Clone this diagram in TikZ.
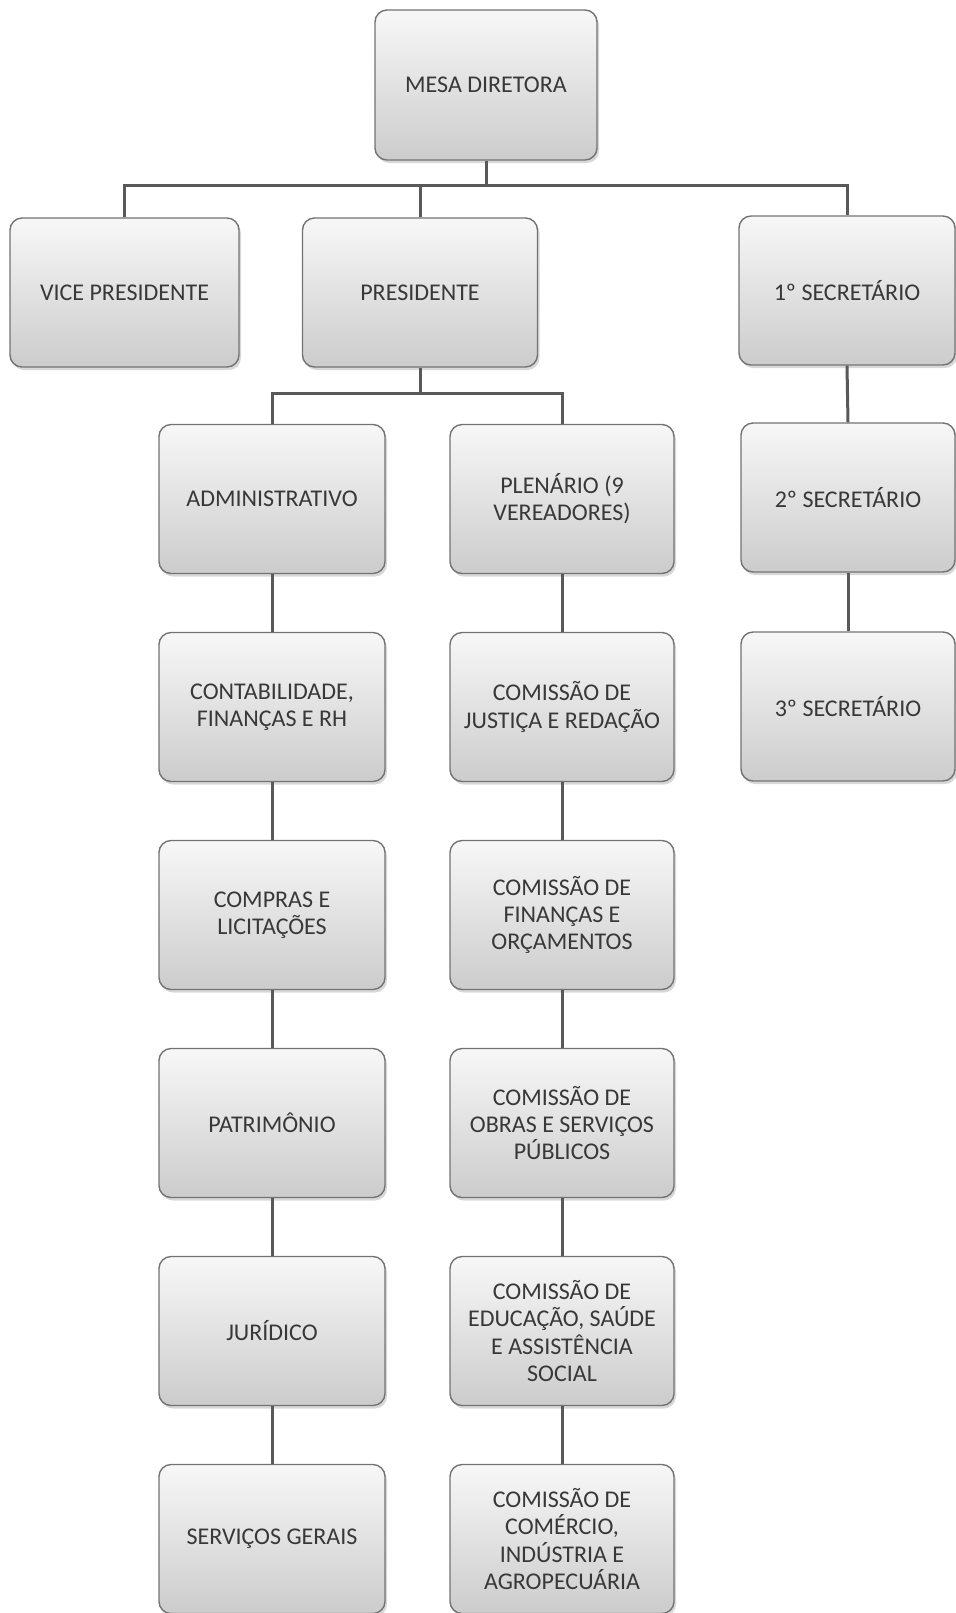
\documentclass[tikz,border=0pt]{standalone}
\usepackage{fontspec}
\setmainfont{Carlito}
\usetikzlibrary{shadows}
\begin{document}
\begin{tikzpicture}[x=0.5pt,y=-0.5pt,
  box/.style={draw=black!55, line width=0.7pt, rounded corners=6pt,
    minimum width=113pt, minimum height=74.5pt, align=center, inner sep=2pt,
    text=black!78, font=\fontsize{12}{13.6}\selectfont,
    top color=gray!6, bottom color=gray!40,
    drop shadow={opacity=0.3, shadow xshift=1pt, shadow yshift=-1.5pt}},
  conn/.style={draw=black!65, line width=1.5pt}]
\useasboundingbox (0,0) rectangle (955,1613);
\fill[white] (0,0) rectangle (955,1613);

% top levels
\node[box, minimum width=111pt, minimum height=75pt] (mesa) at (486,85) {MESA DIRETORA};
\node[box, minimum width=114.5pt] (vice) at (124.5,292.5) {VICE PRESIDENTE};
\node[box, minimum width=117.5pt] (pres) at (420,292.5) {PRESIDENTE};
\node[box, minimum width=108pt] (sec1) at (847,290.5) {1º SECRETÁRIO};
\node[box, minimum width=107pt] (sec2) at (848,497.5) {2º SECRETÁRIO};
\node[box, minimum width=107pt] (sec3) at (848,706.5) {3º SECRETÁRIO};

% left column
\node[box] (adm)  at (272,499)  {ADMINISTRATIVO};
\node[box] (cont) at (272,707)  {CONTABILIDADE,\\FINANÇAS E RH};
\node[box] (comp) at (272,915)  {COMPRAS E\\LICITAÇÕES};
\node[box] (patr) at (272,1123) {PATRIMÔNIO};
\node[box] (jur)  at (272,1331) {JURÍDICO};
\node[box] (serv) at (272,1539) {SERVIÇOS GERAIS};

% middle column
\node[box, minimum width=112pt] (plen) at (562,499)  {PLENÁRIO (9\\VEREADORES)};
\node[box, minimum width=112pt] (cjus) at (562,707)  {COMISSÃO DE\\JUSTIÇA E REDAÇÃO};
\node[box, minimum width=112pt] (cfin) at (562,915)  {COMISSÃO DE\\FINANÇAS E\\ORÇAMENTOS};
\node[box, minimum width=112pt] (cobr) at (562,1123) {COMISSÃO DE\\OBRAS E SERVIÇOS\\PÚBLICOS};
\node[box, minimum width=112pt] (cedu) at (562,1331) {COMISSÃO DE\\EDUCAÇÃO, SAÚDE\\E ASSISTÊNCIA\\SOCIAL};
\node[box, minimum width=112pt] (ccom) at (562,1539) {COMISSÃO DE\\COMÉRCIO,\\INDÚSTRIA E\\AGROPECUÁRIA};

% buses
\coordinate (bus) at (0,185);
\coordinate (pbus) at (0,393);

\draw[conn] (mesa.south) -- (mesa.south |- bus);
\draw[conn] (vice.north) |- (bus -| sec1.north) -- (sec1.north);
\draw[conn] (pres.north) -- (pres.north |- bus);

\draw[conn] (pres.south) -- (pres.south |- pbus);
\draw[conn] (adm.north) |- (pbus -| plen.north) -- (plen.north);

\draw[conn] (sec1.south) -- (sec2.north);
\draw[conn] (sec2.south) -- (sec3.north);

\draw[conn] (adm.south) -- (cont.north);
\draw[conn] (cont.south) -- (comp.north);
\draw[conn] (comp.south) -- (patr.north);
\draw[conn] (patr.south) -- (jur.north);
\draw[conn] (jur.south) -- (serv.north);

\draw[conn] (plen.south) -- (cjus.north);
\draw[conn] (cjus.south) -- (cfin.north);
\draw[conn] (cfin.south) -- (cobr.north);
\draw[conn] (cobr.south) -- (cedu.north);
\draw[conn] (cedu.south) -- (ccom.north);
\end{tikzpicture}
\end{document}
